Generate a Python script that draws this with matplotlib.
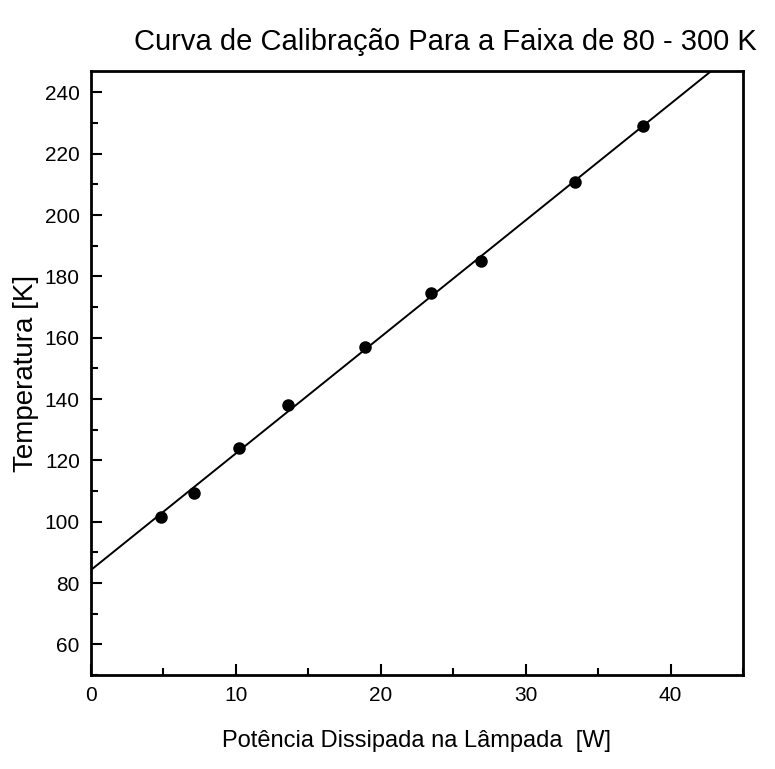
import numpy as np
import matplotlib
matplotlib.use("Agg")
import matplotlib.pyplot as plt
from matplotlib.ticker import MultipleLocator

# calibration points
potencia = [4.8, 7.1, 10.2, 13.6, 18.9, 23.5, 26.9, 33.4, 38.1]
temperatura = [101.5, 109.5, 124.0, 138.0, 157.0, 174.5, 185.0, 210.8, 229.0]

plt.rcParams['font.family'] = ['Liberation Sans', 'DejaVu Sans']

fig = plt.figure(figsize=(7.75, 7.69), dpi=100)
ax = fig.add_axes([0.1174, 0.1222, 0.8413, 0.7855])

# linear fit through the points
coef = np.polyfit(potencia, temperatura, 1)
xfit = np.linspace(0, 45, 200)
ax.plot(xfit, np.polyval(coef, xfit), color='black', lw=1.4)
ax.plot(potencia, temperatura, 'o', color='black', ms=8)

ax.set_xlim(0, 45)
ax.set_ylim(50, 247)
ax.xaxis.set_major_locator(MultipleLocator(10))
ax.xaxis.set_minor_locator(MultipleLocator(5))
ax.yaxis.set_minor_locator(MultipleLocator(10))
ax.set_yticks(range(60, 241, 20))
ax.tick_params(which='both', direction='in', width=1.5, labelsize=15)
ax.tick_params(which='major', length=8, pad=8)
ax.tick_params(which='minor', length=5)
for s in ax.spines.values():
    s.set_linewidth(2)

fig.text(0.575, 0.945, 'Curva de Calibração Para a Faixa de 80 - 300 K',
         ha='center', va='center', fontsize=21)
ax.set_xlabel('Potência Dissipada na Lâmpada  [W]', fontsize=17, labelpad=18)
ax.set_ylabel('Temperatura [K]', fontsize=20, labelpad=4)

fig.savefig('out.png', dpi=100)
